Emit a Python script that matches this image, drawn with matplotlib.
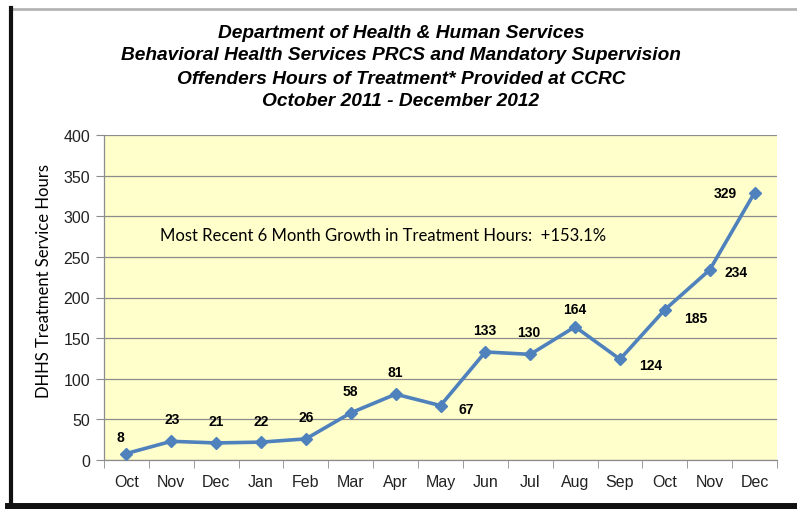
import matplotlib
matplotlib.use("Agg")
import matplotlib.pyplot as plt
from matplotlib.lines import Line2D

# Monthly treatment hours, Oct 2011 - Dec 2012
months = ["Oct", "Nov", "Dec", "Jan", "Feb", "Mar", "Apr", "May",
          "Jun", "Jul", "Aug", "Sep", "Oct", "Nov", "Dec"]
hours = [8, 23, 21, 22, 26, 58, 81, 67, 133, 130, 164, 124, 185, 234, 329]
y_ticks = [0, 50, 100, 150, 200, 250, 300, 350, 400]

title_lines = [
    "Department of Health & Human Services",
    "Behavioral Health Services PRCS and Mandatory Supervision",
    "Offenders Hours of Treatment* Provided at CCRC",
    "October 2011 - December 2012",
]
y_label = "DHHS Treatment Service Hours"
growth_note = "Most Recent 6 Month Growth in Treatment Hours:  +153.1%"

# label offsets (pixels) relative to each point
label_offsets = [(-6, 16), (1, 22), (0, 22), (0, 21), (0, 22), (0, 22), (0, 22),
                 (26, -3), (-1, 22), (-1, 22), (0, 18), (31, -6), (31, -8),
                 (26, -2), (-29, 0)]

W, H = 797, 510
fig = plt.figure(figsize=(W / 100, H / 100), dpi=100)
fig.patch.set_facecolor("white")

# chart frame
fig.add_artist(Line2D([11 / W, 1.0], [1 - 10 / H, 1 - 10 / H], color="#b4b4b4",
                      lw=2.0, transform=fig.transFigure))
fig.add_artist(Line2D([11 / W, 11 / W], [0, 1 - 9 / H], color="#111111",
                      lw=3.0, transform=fig.transFigure))
fig.add_artist(Line2D([8 / W, 1.0], [3 / H, 3 / H], color="#111111",
                      lw=5.0, transform=fig.transFigure))

ax = fig.add_axes([104 / W, (H - 461) / H, (777 - 104) / W, (461 - 136) / H])
ax.set_facecolor("#FFFFCC")

x = list(range(len(months)))
ax.plot(x, hours, color="#4F81BD", lw=2.6, marker="D", markersize=6.5,
        markerfacecolor="#4F81BD", markeredgecolor="#4F81BD", zorder=3,
        clip_on=False)

for xi, v, (dx, dy) in zip(x, hours, label_offsets):
    ax.annotate(str(v), (xi, v), xytext=(dx, dy), textcoords="offset pixels",
                ha="center", va="center", fontsize=10, fontweight="bold",
                family="Liberation Sans", color="black")

ax.set_xlim(-0.5, len(months) - 0.5)
ax.set_ylim(0, 400)
ax.set_yticks(y_ticks)
ax.set_yticklabels([str(t) for t in y_ticks], family="Liberation Sans",
                   fontsize=11.5, color="#222222")
ax.set_xticks(x)
ax.set_xticklabels(months, family="Liberation Sans", fontsize=11.5,
                   color="#222222")
ax.set_xticks([i - 0.5 for i in range(len(months) + 1)], minor=True)
ax.tick_params(axis="x", which="major", length=0, pad=10)
ax.tick_params(axis="x", which="minor", length=6, color="#8c8c8c",
               direction="out")
ax.tick_params(axis="y", length=6, color="#8c8c8c", direction="out", pad=4)

ax.grid(axis="y", color="#8c8c8c", lw=0.9)
ax.set_axisbelow(True)
for side in ("top", "right"):
    ax.spines[side].set_visible(False)
for side in ("left", "bottom"):
    ax.spines[side].set_color("#8c8c8c")
    ax.spines[side].set_linewidth(0.9)

ax.set_ylabel(y_label, family="Lato", fontsize=12, color="black")
ax.yaxis.set_label_coords(-0.077, 0.554)

ax.text(160 / W, 1 - 236 / H, growth_note, transform=fig.transFigure,
        family="Lato", fontsize=12, va="center", ha="left", color="black")

for i, line in enumerate(title_lines):
    fig.text(401 / W, 1 - (33 + 23 * i) / H, line, ha="center", va="center",
             family="Liberation Sans", fontsize=13.8, fontweight="bold",
             style="italic", color="black")

fig.savefig("out.png", dpi=100)
